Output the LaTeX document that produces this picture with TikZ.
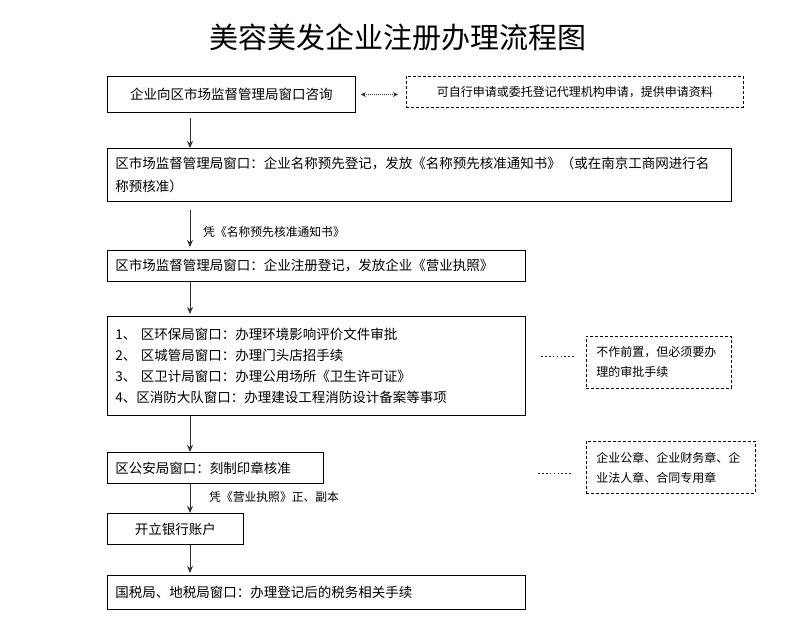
\documentclass[tikz,border=0pt]{standalone}
\usepackage{fontspec}
\setmainfont{Noto Sans CJK SC}
\usetikzlibrary{arrows.meta}
\begin{document}
\begin{tikzpicture}[x=1pt,y=-1pt,
  box/.style={draw=black, line width=0.9pt, inner xsep=8pt, inner ysep=2pt, font=\fontsize{13.5}{21}\selectfont, anchor=north west},
  dbox/.style={draw=black, line width=0.8pt, dashed, dash pattern=on 3pt off 2pt, inner xsep=10pt, inner ysep=2pt, font=\fontsize{12}{20}\selectfont, anchor=north west},
  arr/.style={draw=black!80, line width=0.9pt, -{Stealth[length=7pt,width=6pt]}},
  lab/.style={font=\fontsize{11.8}{14}\selectfont, anchor=west, inner sep=0pt},
  dotline/.style={line width=1.7pt, dash pattern=on 1.7pt off 2.2pt, draw=black!85}
]
\useasboundingbox (0,0) rectangle (793,631);
\node[font=\fontsize{29}{32}\selectfont, anchor=center] (title) at (398,37) {美容美发企业注册办理流程图};

\coordinate (ax) at (190,0);

\node[box, minimum width=248pt, minimum height=36pt, align=center] (b1) at (107,76) {企业向区市场监督管理局窗口咨询};
\node[dbox, minimum width=337pt, minimum height=31pt, align=center] (d1) at (406,76) {可自行申请或委托登记代理机构申请，提供申请资料};
\draw[draw=black!80, line width=1pt, densely dotted, {Stealth[length=5pt,width=5pt]}-{Stealth[length=5pt,width=5pt]}] ([xshift=5pt]b1.east) -- ([xshift=-8pt]b1.east -| d1.west);

\node[box, minimum width=624pt, minimum height=53pt, text width=608pt, align=left, font=\fontsize{13.5}{23}\selectfont] (b2) at (107,148) {区市场监督管理局窗口：企业名称预先登记，发放《名称预先核准通知书》（或在南京工商网进行名\\称预核准）};

\node[box, minimum width=418pt, minimum height=31pt, text width=402pt, align=left] (b3) at (107,250) {区市场监督管理局窗口：企业注册登记，发放企业《营业执照》};

\node[box, minimum width=418pt, minimum height=99pt, text width=402pt, align=left] (b4) at (107,316) {1、 区环保局窗口：办理环境影响评价文件审批\\2、 区城管局窗口：办理门头店招手续\\3、 区卫计局窗口：办理公用场所《卫生许可证》\\4、区消防大队窗口：办理建设工程消防设计备案等事项};

\node[dbox, minimum width=145pt, minimum height=52pt, text width=125pt, align=left] (d5) at (586,336) {不作前置，但必须要办\\理的审批手续};

\node[box, minimum width=216pt, minimum height=31pt, text width=200pt, align=left] (b6) at (107,452) {区公安局窗口：刻制印章核准};

\node[dbox, minimum width=169pt, minimum height=52pt, text width=149pt, align=left] (d7) at (586,441) {企业公章、企业财务章、企\\业法人章、合同专用章};

\node[box, minimum width=136pt, minimum height=31pt, align=center] (b8) at (107,513) {开立银行账户};

\node[box, minimum width=418pt, minimum height=34pt, text width=402pt, align=left] (b9) at (107,575) {国税局、地税局窗口：办理登记后的税务相关手续};

\draw[arr] (b1.south -| ax) ++(0,5) -- (b2.north -| ax);
\draw[arr] ([yshift=-8pt]b2.south -| ax) -- ([yshift=3pt]b3.north -| ax);
\draw[arr] (b3.south -| ax) -- ([yshift=2pt]b4.north -| ax);
\draw[arr] (b4.south -| ax) -- (b6.north -| ax);
\draw[arr] (b6.south -| ax) -- (b8.north -| ax);
\draw[arr] (b8.south -| ax) -- ([yshift=2pt]b9.north -| ax);

\node[lab] (l1) at (203,232) {凭《名称预先核准通知书》};
\node[lab] (l2) at (209,497) {凭《营业执照》正、副本};

\draw[dotline] ([xshift=-45pt,yshift=6pt]d5.west) -- ([xshift=-11pt,yshift=6pt]d5.west);
\draw[dotline] ([xshift=-48pt,yshift=-6pt]d7.west) -- ([xshift=-13pt,yshift=-6pt]d7.west);
\end{tikzpicture}
\end{document}
